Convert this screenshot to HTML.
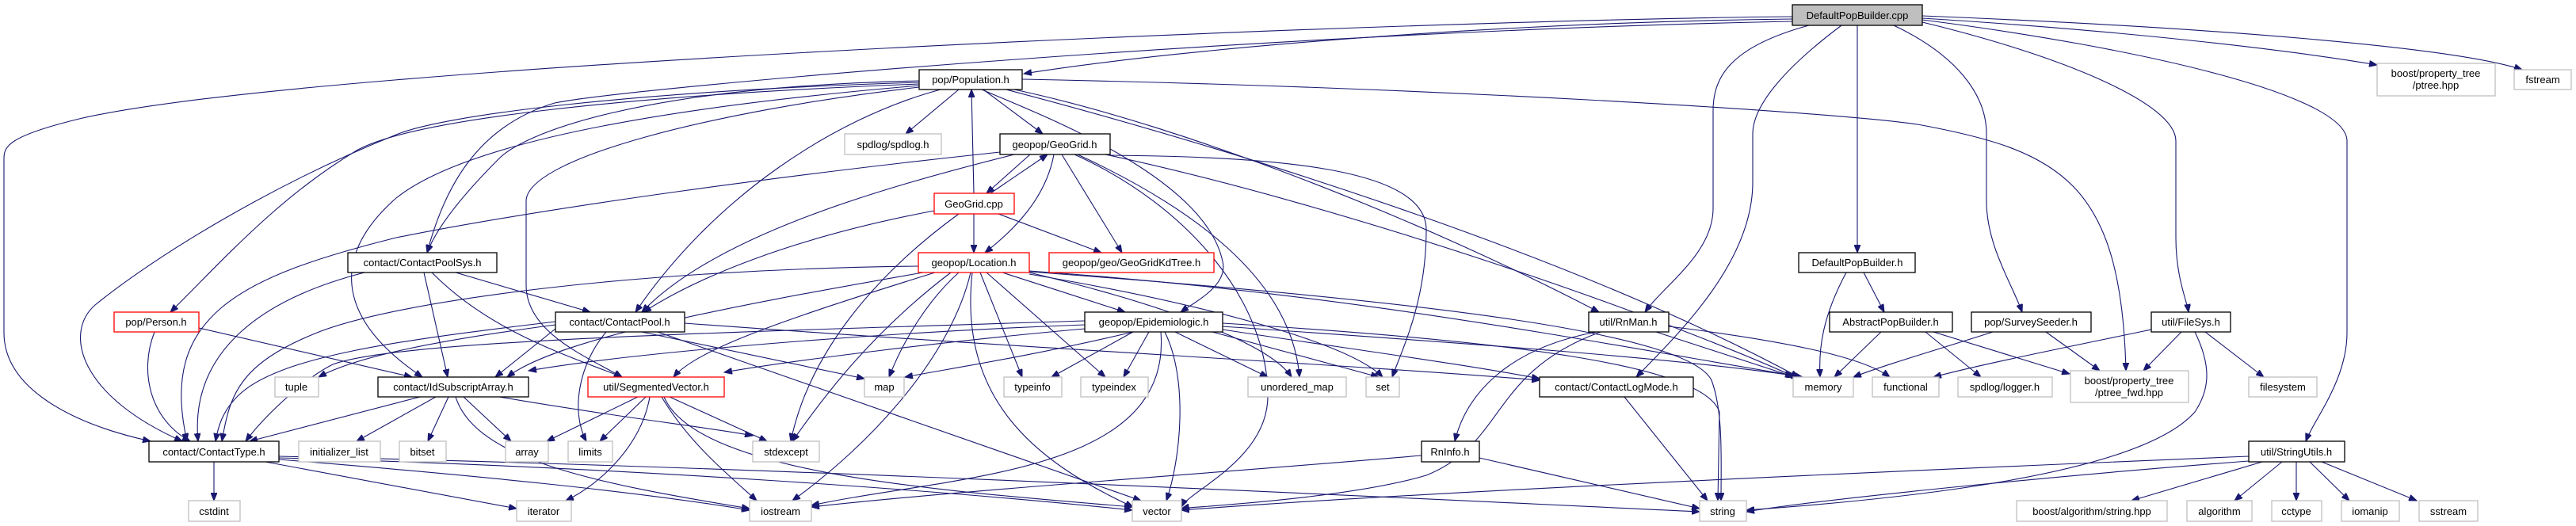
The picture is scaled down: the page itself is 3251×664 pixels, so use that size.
<!DOCTYPE html>
<html><head><meta charset="utf-8"><style>
html,body{margin:0;padding:0;background:#fff}
svg{display:block}
text{font-family:"Liberation Sans","DejaVu Sans",sans-serif;font-size:13px;fill:#000;text-anchor:middle}
.e{fill:none;stroke:#191970;stroke-width:1.1}
.d{fill:#fff;stroke:#000;stroke-width:1.3}
.x{fill:#fff;stroke:#bfbfbf;stroke-width:1.3}
.r{fill:#fff;stroke:#ff0000;stroke-width:1.3}
</style></head><body>
<svg width="3251" height="664" viewBox="0 0 3251 664" xmlns="http://www.w3.org/2000/svg">
<defs><marker id="a" markerUnits="userSpaceOnUse" markerWidth="11" markerHeight="8" refX="10" refY="4" orient="auto"><path d="M0,0 L10,4 L0,8 z" fill="#191970" stroke="#191970"/></marker></defs>
<rect width="3251" height="664" fill="#fff"/>
<g class="e" marker-end="url(#a)">
<path class="e" marker-end="url(#a)" d="M2262,24 C1900,28 1500,60 1292,93"/>
<path class="e" marker-end="url(#a)" d="M2262,21 C1800,25 400,80 100,150 C10,172 5,185 5,200 L5,420 C5,490 90,535 190,557"/>
<path class="e" marker-end="url(#a)" d="M2262,27 C1600,40 800,110 700,130 C600,160 560,240 539,319"/>
<path class="e" marker-end="url(#a)" d="M2283,32 C2180,60 2162,100 2162,140 L2162,263 C2162,320 2100,360 2076,394"/>
<path class="e" marker-end="url(#a)" d="M2324,32 C2260,80 2212,130 2212,169 L2212,230 C2212,330 2120,420 2065,476"/>
<path class="e" marker-end="url(#a)" d="M2344,32 L2344,319"/>
<path class="e" marker-end="url(#a)" d="M2390,32 C2470,70 2507,120 2507,169 L2507,254 C2507,310 2540,360 2552,394"/>
<path class="e" marker-end="url(#a)" d="M2426,28 C2600,70 2746,130 2746,178 L2746,300 C2746,350 2760,380 2762,394"/>
<path class="e" marker-end="url(#a)" d="M2426,25 C2700,60 2962,120 2962,178 L2962,420 C2962,480 2920,530 2910,557"/>
<path class="e" marker-end="url(#a)" d="M2426,23 C2700,40 2900,65 3000,82"/>
<path class="e" marker-end="url(#a)" d="M2426,20 C2800,35 3100,60 3183,88"/>

<path class="e" marker-end="url(#a)" d="M1210,113 L1143,169"/>
<path class="e" marker-end="url(#a)" d="M1241,113 L1316,169"/>
<path class="e" marker-end="url(#a)" d="M1187,113 C1050,150 900,250 802,394"/>
<path class="e" marker-end="url(#a)" d="M1160,106 C800,120 520,150 450,190 C350,250 280,330 215,394"/>
<path class="e" marker-end="url(#a)" d="M1160,104 C800,115 560,145 500,170 C350,230 200,320 120,385 C80,420 100,500 230,557"/>
<path class="e" marker-end="url(#a)" d="M1160,102 C800,110 660,170 630,200 C580,250 550,290 539,319"/>
<path class="e" marker-end="url(#a)" d="M1160,108 C900,130 600,170 500,250 C420,320 420,400 533,476"/>
<path class="e" marker-end="url(#a)" d="M1160,110 C900,140 664,200 664,254 L664,360 C664,420 740,450 785,476"/>
<path class="e" marker-end="url(#a)" d="M1239,113 C1300,140 1520,220 1543,330 C1550,360 1510,380 1490,394"/>
<path class="e" marker-end="url(#a)" d="M1280,113 C1500,160 1800,280 2018,394"/>
<path class="e" marker-end="url(#a)" d="M1270,113 C1600,200 2000,330 2270,476"/>
<path class="e" marker-end="url(#a)" d="M1290,100 C1800,110 2300,140 2420,157 C2600,190 2677,230 2683,468"/>

<path class="e" marker-end="url(#a)" d="M1300,195 L1245,244"/>
<path class="e" marker-end="url(#a)" d="M1250,244 L1322,195"/>
<path class="e" marker-end="url(#a)" d="M1330,195 C1320,250 1280,290 1243,319"/>
<path class="e" marker-end="url(#a)" d="M1340,195 L1416,319"/>
<path class="e" marker-end="url(#a)" d="M1280,195 C1100,240 900,300 810,394"/>
<path class="e" marker-end="url(#a)" d="M1262,192 C1000,220 700,260 500,300 C300,350 200,400 236,557"/>
<path class="e" marker-end="url(#a)" d="M1401,196 C1600,198 1800,210 1800,290 C1800,380 1770,440 1757,476"/>
<path class="e" marker-end="url(#a)" d="M1360,195 C1500,260 1630,350 1640,476"/>
<path class="e" marker-end="url(#a)" d="M1356,195 C1500,260 1600,380 1600,500 C1600,580 1500,620 1491,640"/>
<path class="e" marker-end="url(#a)" d="M1395,195 C1700,260 2100,400 2270,478"/>

<path class="e" marker-end="url(#a)" d="M1229,244 L1226,113"/>
<path class="e" marker-end="url(#a)" d="M1229,270 L1229,319"/>
<path class="e" marker-end="url(#a)" d="M1260,270 L1390,319"/>
<path class="e" marker-end="url(#a)" d="M1179,266 C1000,300 880,350 812,394"/>
<path class="e" marker-end="url(#a)" d="M1210,270 C1100,350 1020,450 998,557"/>

<path class="e" marker-end="url(#a)" d="M1265,344 L1420,394"/>
<path class="e" marker-end="url(#a)" d="M1210,344 C1170,380 1140,430 1122,476"/>
<path class="e" marker-end="url(#a)" d="M1237,344 L1290,476"/>
<path class="e" marker-end="url(#a)" d="M1245,344 L1395,476"/>
<path class="e" marker-end="url(#a)" d="M1200,344 C1100,420 1040,500 1000,557"/>
<path class="e" marker-end="url(#a)" d="M1225,344 C1200,450 1100,560 1000,632"/>
<path class="e" marker-end="url(#a)" d="M1227,344 C1210,500 1300,580 1430,640"/>
<path class="e" marker-end="url(#a)" d="M1299,346 C1500,380 1700,430 1745,476"/>
<path class="e" marker-end="url(#a)" d="M1299,344 C1450,380 1600,430 1630,476"/>
<path class="e" marker-end="url(#a)" d="M1299,342 C1700,370 2000,430 2275,476"/>
<path class="e" marker-end="url(#a)" d="M1299,343 C1800,380 2130,420 2160,480 C2175,520 2172,580 2172,632"/>
<path class="e" marker-end="url(#a)" d="M1180,344 C1000,400 880,440 850,476"/>
<path class="e" marker-end="url(#a)" d="M1165,344 C900,390 700,430 640,476"/>
<path class="e" marker-end="url(#a)" d="M1159,336 C800,340 500,380 400,420 C300,460 290,500 280,557"/>

<path class="e" marker-end="url(#a)" d="M1430,419 L1327,476"/>
<path class="e" marker-end="url(#a)" d="M1450,419 L1418,476"/>
<path class="e" marker-end="url(#a)" d="M1483,419 L1600,476"/>
<path class="e" marker-end="url(#a)" d="M1470,419 C1500,480 1490,580 1472,632"/>
<path class="e" marker-end="url(#a)" d="M1465,419 C1480,600 1200,600 1024,638"/>
<path class="e" marker-end="url(#a)" d="M1430,419 C1300,450 1200,465 1142,476"/>
<path class="e" marker-end="url(#a)" d="M1369,415 C1200,430 1000,455 914,470"/>
<path class="e" marker-end="url(#a)" d="M1369,410 C1100,420 800,445 667,468"/>
<path class="e" marker-end="url(#a)" d="M1369,405 C900,420 500,430 420,460 C380,480 330,530 310,557"/>
<path class="e" marker-end="url(#a)" d="M1543,412 C1800,430 2100,450 2263,474"/>
<path class="e" marker-end="url(#a)" d="M1543,408 C1900,430 2150,460 2170,520 L2168,632"/>
<path class="e" marker-end="url(#a)" d="M1530,419 L1740,476"/>
<path class="e" marker-end="url(#a)" d="M1543,416 C1700,440 1850,460 1943,478"/>

<path class="e" marker-end="url(#a)" d="M701,410 C550,430 450,450 402,476"/>
<path class="e" marker-end="url(#a)" d="M701,406 C500,430 350,450 300,500 C280,520 275,540 272,557"/>
<path class="e" marker-end="url(#a)" d="M701,415 L625,476"/>
<path class="e" marker-end="url(#a)" d="M765,419 C730,460 720,520 740,557"/>
<path class="e" marker-end="url(#a)" d="M810,419 L1091,478"/>
<path class="e" marker-end="url(#a)" d="M830,419 L1440,632"/>
<path class="e" marker-end="url(#a)" d="M864,408 C1300,440 1700,460 1943,480"/>

<path class="e" marker-end="url(#a)" d="M460,344 C320,380 240,450 250,557"/>
<path class="e" marker-end="url(#a)" d="M535,344 L565,476"/>
<path class="e" marker-end="url(#a)" d="M545,344 C620,420 720,450 785,476"/>
<path class="e" marker-end="url(#a)" d="M575,344 L745,394"/>

<path class="e" marker-end="url(#a)" d="M195,419 C175,470 190,530 240,557"/>
<path class="e" marker-end="url(#a)" d="M251,414 L520,476"/>

<path class="e" marker-end="url(#a)" d="M530,501 L315,557"/>
<path class="e" marker-end="url(#a)" d="M550,501 L450,557"/>
<path class="e" marker-end="url(#a)" d="M566,501 L540,557"/>
<path class="e" marker-end="url(#a)" d="M585,501 L645,557"/>
<path class="e" marker-end="url(#a)" d="M630,501 C800,530 900,540 950,550"/>
<path class="e" marker-end="url(#a)" d="M575,501 C600,580 750,610 946,642"/>

<path class="e" marker-end="url(#a)" d="M805,501 L690,557"/>
<path class="e" marker-end="url(#a)" d="M815,501 L757,557"/>
<path class="e" marker-end="url(#a)" d="M820,501 C810,560 760,610 714,632"/>
<path class="e" marker-end="url(#a)" d="M845,501 L968,557"/>
<path class="e" marker-end="url(#a)" d="M835,501 C870,560 920,600 955,632"/>
<path class="e" marker-end="url(#a)" d="M838,501 C880,600 1200,620 1429,640"/>

<path class="e" marker-end="url(#a)" d="M270,583 L270,632"/>
<path class="e" marker-end="url(#a)" d="M335,583 L652,642"/>
<path class="e" marker-end="url(#a)" d="M352,580 C600,600 800,620 946,644"/>
<path class="e" marker-end="url(#a)" d="M352,578 C800,590 1200,620 1429,644"/>
<path class="e" marker-end="url(#a)" d="M352,576 C1000,590 1800,630 2145,646"/>

<path class="e" marker-end="url(#a)" d="M2015,419 C1900,440 1850,500 1836,557"/>
<path class="e" marker-end="url(#a)" d="M2090,419 L2265,476"/>
<path class="e" marker-end="url(#a)" d="M2106,412 C2250,430 2350,450 2385,476"/>
<path class="e" marker-end="url(#a)" d="M2020,419 C1880,470 1900,560 1800,600 C1700,630 1500,640 1491,642"/>
<path class="e" marker-end="url(#a)" d="M1794,575 C1500,600 1200,620 1024,640"/>
<path class="e" marker-end="url(#a)" d="M1867,578 L2145,642"/>
<path class="e" marker-end="url(#a)" d="M2050,501 L2155,632"/>

<path class="e" marker-end="url(#a)" d="M2330,344 C2300,400 2295,440 2297,476"/>
<path class="e" marker-end="url(#a)" d="M2352,344 L2378,394"/>
<path class="e" marker-end="url(#a)" d="M2374,419 L2315,476"/>
<path class="e" marker-end="url(#a)" d="M2430,419 L2500,476"/>
<path class="e" marker-end="url(#a)" d="M2440,419 L2612,472"/>
<path class="e" marker-end="url(#a)" d="M2515,419 C2450,440 2380,460 2339,476"/>
<path class="e" marker-end="url(#a)" d="M2582,419 L2650,468"/>
<path class="e" marker-end="url(#a)" d="M2715,416 C2600,440 2500,460 2440,476"/>
<path class="e" marker-end="url(#a)" d="M2753,419 L2705,468"/>
<path class="e" marker-end="url(#a)" d="M2783,419 L2857,476"/>
<path class="e" marker-end="url(#a)" d="M2770,419 C2790,460 2790,490 2770,520 C2700,600 2400,630 2204,644"/>
<path class="e" marker-end="url(#a)" d="M2838,576 C2500,590 1800,620 1491,644"/>
<path class="e" marker-end="url(#a)" d="M2838,582 C2600,600 2300,630 2204,646"/>
<path class="e" marker-end="url(#a)" d="M2855,583 L2690,632"/>
<path class="e" marker-end="url(#a)" d="M2880,583 L2820,632"/>
<path class="e" marker-end="url(#a)" d="M2898,583 L2898,632"/>
<path class="e" marker-end="url(#a)" d="M2915,583 L2965,632"/>
<path class="e" marker-end="url(#a)" d="M2930,583 L3050,632"/>
</g>

<!-- nodes -->
<rect x="2262" y="6" width="164" height="26" fill="#bfbfbf" stroke="#000" stroke-width="1.3"/><text x="2344" y="24">DefaultPopBuilder.cpp</text>
<rect class="d" x="1160" y="88" width="130" height="25"/><text x="1225" y="105">pop/Population.h</text>
<rect class="x" x="3000" y="80" width="149" height="41"/><text x="3074" y="97">boost/property_tree</text><text x="3074" y="112">/ptree.hpp</text>
<rect class="x" x="3173" y="88" width="72" height="25"/><text x="3209" y="105">fstream</text>
<rect class="x" x="1066" y="169" width="122" height="26"/><text x="1127" y="187">spdlog/spdlog.h</text>
<rect class="d" x="1262" y="169" width="139" height="26"/><text x="1331" y="187">geopop/GeoGrid.h</text>
<rect class="r" x="1179" y="244" width="101" height="26"/><text x="1229" y="262">GeoGrid.cpp</text>
<rect class="r" x="1159" y="319" width="140" height="25"/><text x="1229" y="336">geopop/Location.h</text>
<rect class="r" x="1324" y="319" width="208" height="25"/><text x="1428" y="336">geopop/geo/GeoGridKdTree.h</text>
<rect class="d" x="439" y="319" width="188" height="25"/><text x="533" y="336">contact/ContactPoolSys.h</text>
<rect class="d" x="2270" y="319" width="147" height="25"/><text x="2344" y="336">DefaultPopBuilder.h</text>
<rect class="r" x="144" y="394" width="107" height="25"/><text x="197" y="411">pop/Person.h</text>
<rect class="d" x="701" y="394" width="163" height="25"/><text x="782" y="411">contact/ContactPool.h</text>
<rect class="d" x="1369" y="394" width="174" height="25"/><text x="1456" y="411">geopop/Epidemiologic.h</text>
<rect class="d" x="2005" y="394" width="101" height="25"/><text x="2055" y="411">util/RnMan.h</text>
<rect class="d" x="2309" y="394" width="155" height="25"/><text x="2386" y="411">AbstractPopBuilder.h</text>
<rect class="d" x="2488" y="394" width="151" height="25"/><text x="2563" y="411">pop/SurveySeeder.h</text>
<rect class="d" x="2715" y="394" width="100" height="25"/><text x="2765" y="411">util/FileSys.h</text>

<rect class="x" x="347" y="476" width="55" height="25"/><text x="374" y="493">tuple</text>
<rect class="d" x="477" y="476" width="190" height="25"/><text x="572" y="493">contact/IdSubscriptArray.h</text>
<rect class="r" x="742" y="476" width="172" height="25"/><text x="828" y="493">util/SegmentedVector.h</text>
<rect class="x" x="1091" y="476" width="50" height="25"/><text x="1116" y="493">map</text>
<rect class="x" x="1267" y="476" width="73" height="25"/><text x="1303" y="493">typeinfo</text>
<rect class="x" x="1364" y="476" width="85" height="25"/><text x="1406" y="493">typeindex</text>
<rect class="x" x="1575" y="476" width="124" height="25"/><text x="1637" y="493">unordered_map</text>
<rect class="x" x="1724" y="476" width="42" height="25"/><text x="1745" y="493">set</text>
<rect class="d" x="1943" y="476" width="194" height="25"/><text x="2040" y="493">contact/ContactLogMode.h</text>
<rect class="x" x="2263" y="476" width="76" height="25"/><text x="2301" y="493">memory</text>
<rect class="x" x="2363" y="476" width="84" height="25"/><text x="2405" y="493">functional</text>
<rect class="x" x="2471" y="476" width="119" height="25"/><text x="2530" y="493">spdlog/logger.h</text>
<rect class="x" x="2613" y="468" width="149" height="40"/><text x="2687" y="485">boost/property_tree</text><text x="2687" y="500">/ptree_fwd.hpp</text>
<rect class="x" x="2838" y="476" width="86" height="25"/><text x="2881" y="493">filesystem</text>

<rect class="d" x="188" y="557" width="164" height="26"/><text x="270" y="575">contact/ContactType.h</text>
<rect class="x" x="377" y="557" width="103" height="26"/><text x="428" y="575">initializer_list</text>
<rect class="x" x="504" y="557" width="59" height="26"/><text x="533" y="575">bitset</text>
<rect class="x" x="638" y="557" width="54" height="26"/><text x="665" y="575">array</text>
<rect class="x" x="717" y="557" width="56" height="26"/><text x="745" y="575">limits</text>
<rect class="x" x="950" y="557" width="84" height="26"/><text x="992" y="575">stdexcept</text>
<rect class="d" x="1794" y="557" width="73" height="26"/><text x="1830" y="575">RnInfo.h</text>
<rect class="d" x="2838" y="557" width="121" height="26"/><text x="2898" y="575">util/StringUtils.h</text>

<rect class="x" x="238" y="632" width="65" height="26"/><text x="270" y="650">cstdint</text>
<rect class="x" x="652" y="632" width="69" height="26"/><text x="686" y="650">iterator</text>
<rect class="x" x="946" y="632" width="78" height="26"/><text x="985" y="650">iostream</text>
<rect class="x" x="1429" y="632" width="62" height="26"/><text x="1460" y="650">vector</text>
<rect class="x" x="2145" y="632" width="59" height="26"/><text x="2174" y="650">string</text>
<rect class="x" x="2545" y="632" width="190" height="26"/><text x="2640" y="650">boost/algorithm/string.hpp</text>
<rect class="x" x="2760" y="632" width="82" height="26"/><text x="2801" y="650">algorithm</text>
<rect class="x" x="2867" y="632" width="63" height="26"/><text x="2898" y="650">cctype</text>
<rect class="x" x="2955" y="632" width="73" height="26"/><text x="2991" y="650">iomanip</text>
<rect class="x" x="3053" y="632" width="74" height="26"/><text x="3090" y="650">sstream</text>
</svg>
</body></html>
